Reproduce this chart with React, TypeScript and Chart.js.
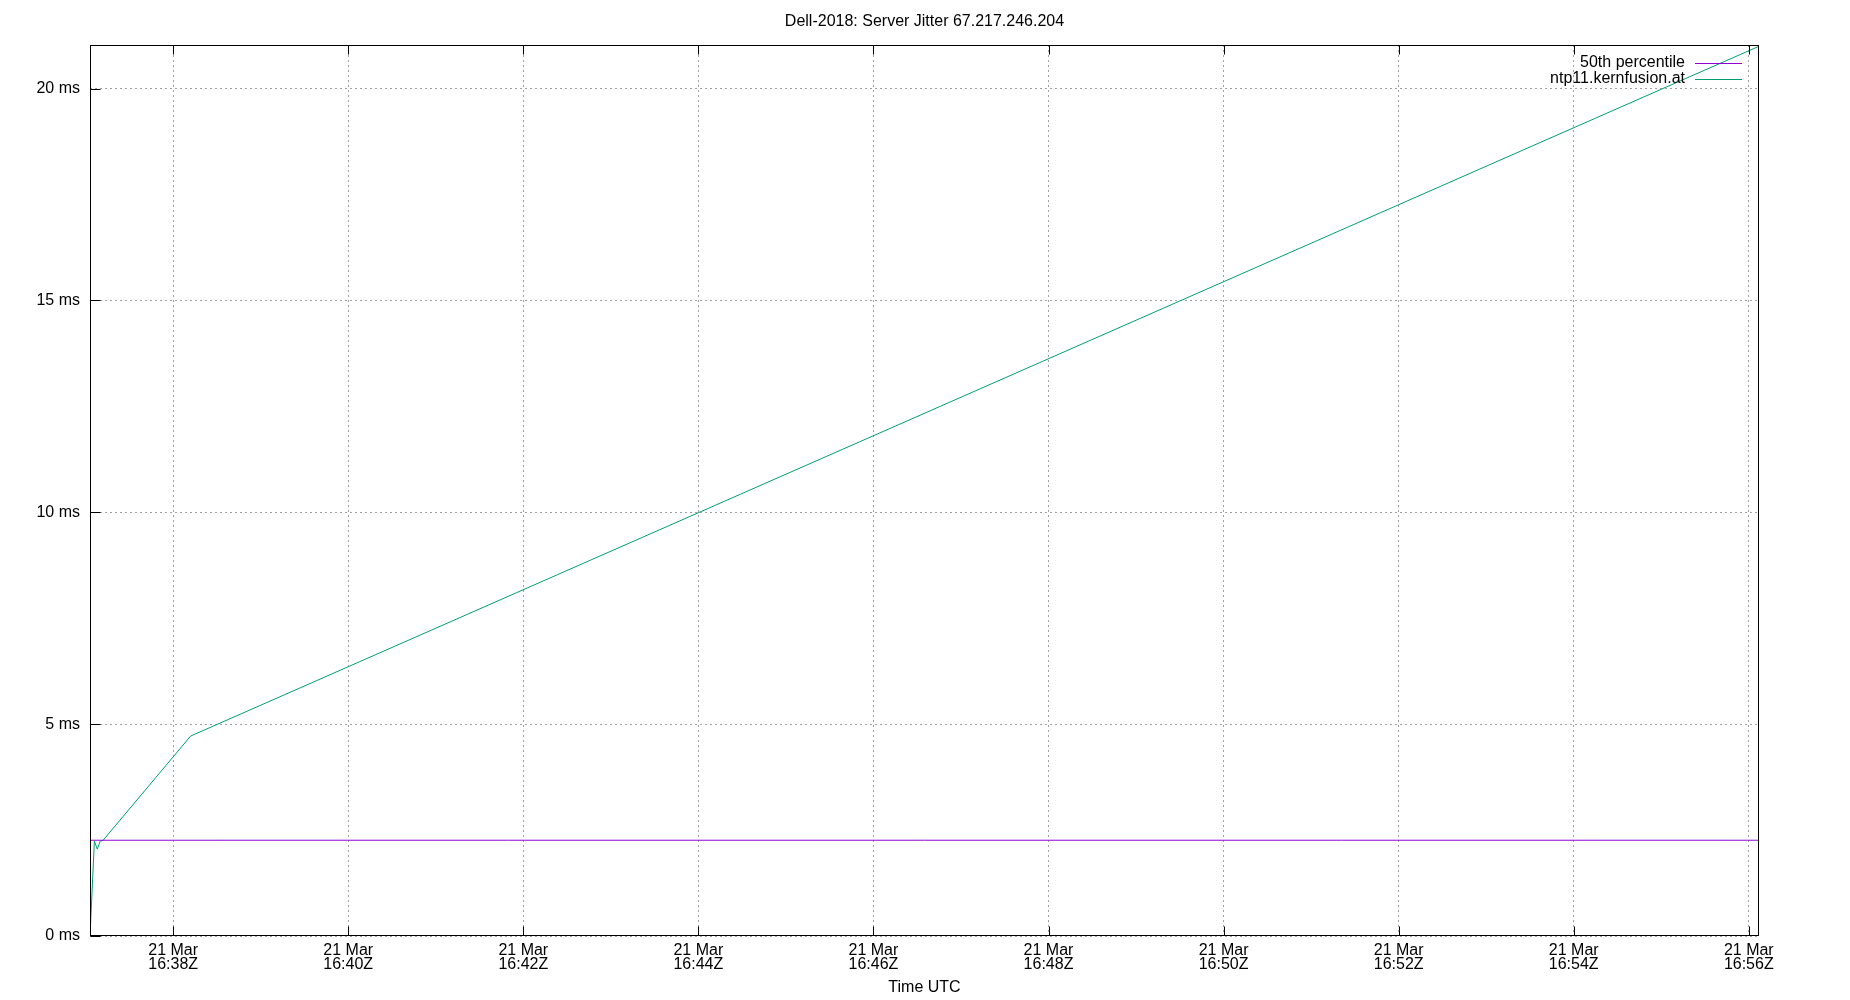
import { Chart, registerables } from 'chart.js'
import { useEffect, useRef } from 'react'

Chart.register(...registerables)

const chartTitle = 'Dell-2018: Server Jitter 67.217.246.204'
const xAxisTitle = 'Time UTC'
const dateLabel = '21 Mar'

// jitter samples for the server (time UTC, ms)
const jitterLabel = 'ntp11.kernfusion.at'
const jitterTimes = ['16:37:03', '16:37:06', '16:37:08', '16:37:10', '16:37:12', '16:38:12', '16:56:07']
const jitterValues = [0, 2.24, 2.05, 2.24, 2.26, 4.72, 21.0]

const medianLabel = '50th percentile'
const medianValue = 2.26

const xRange = ['16:37:03', '16:56:07']
const xTickTimes = ['16:38', '16:40', '16:42', '16:44', '16:46', '16:48', '16:50', '16:52', '16:54', '16:56']
const xTickLabels = ['16:38Z', '16:40Z', '16:42Z', '16:44Z', '16:46Z', '16:48Z', '16:50Z', '16:52Z', '16:54Z', '16:56Z']
const yTicks = [0, 5, 10, 15, 20]
const yMax = 21.03

const FONT = '"Liberation Sans", Arial, sans-serif'

const toSec = (s: string) => {
  const p = s.split(':').map(Number)
  return p[0] * 3600 + p[1] * 60 + (p[2] ?? 0)
}

// gnuplot style frame, inward ticks, title and key
const framePlugin = {
  id: 'frame',
  afterDraw(chart: any) {
    const { ctx, chartArea: a, scales } = chart
    const l = Math.round(a.left) + 0.5
    const r = Math.round(a.right) - 0.5
    const t = Math.round(a.top) + 0.5
    const b = Math.round(a.bottom) - 0.5
    ctx.save()
    ctx.setLineDash([])
    ctx.strokeStyle = '#000'
    ctx.lineWidth = 1
    ctx.strokeRect(l, t, r - l, b - t)
    ctx.beginPath()
    for (const tk of scales.x.ticks) {
      const px = Math.round(scales.x.getPixelForValue(tk.value)) + 0.5
      ctx.moveTo(px, b)
      ctx.lineTo(px, b - 9)
      ctx.moveTo(px, t)
      ctx.lineTo(px, t + 9)
    }
    for (const tk of scales.y.ticks) {
      const py = Math.round(scales.y.getPixelForValue(tk.value)) + 0.5
      ctx.moveTo(l, py)
      ctx.lineTo(l + 10, py)
    }
    ctx.stroke()

    ctx.fillStyle = '#000'
    ctx.font = `16px ${FONT}`
    ctx.textAlign = 'center'
    ctx.textBaseline = 'middle'
    ctx.fillText(chartTitle, (a.left + a.right) / 2, 22)

    ctx.textAlign = 'right'
    chart.data.datasets.forEach((ds: any, i: number) => {
      const y = 63 + i * 16
      ctx.fillStyle = '#000'
      ctx.fillText(ds.label, a.right - 74, y)
      ctx.strokeStyle = ds.borderColor
      ctx.lineWidth = 1
      ctx.beginPath()
      ctx.moveTo(a.right - 64, Math.round(y) + 0.5)
      ctx.lineTo(a.right - 17, Math.round(y) + 0.5)
      ctx.stroke()
    })
    ctx.restore()
  },
}

export default function App() {
  const chartRef = useRef<HTMLCanvasElement>(null)
  const chartInstance = useRef<Chart | null>(null)

  useEffect(() => {
    if (!chartRef.current) return
    if (chartInstance.current) chartInstance.current.destroy()
    const ctx = chartRef.current.getContext('2d')
    if (!ctx) return

    const xMin = toSec(xRange[0])
    const xMax = toSec(xRange[1])

    chartInstance.current = new Chart(ctx, {
      type: 'line',
      data: {
        datasets: [
          {
            label: medianLabel,
            data: [
              { x: xMin, y: medianValue },
              { x: xMax, y: medianValue },
            ],
            borderColor: '#9400d3',
            borderWidth: 1,
            pointRadius: 0,
            tension: 0,
          },
          {
            label: jitterLabel,
            data: jitterTimes.map((t, i) => ({ x: toSec(t), y: jitterValues[i] })),
            borderColor: '#009e73',
            borderWidth: 1,
            pointRadius: 0,
            tension: 0,
          },
        ],
      },
      options: {
        animation: false,
        responsive: true,
        maintainAspectRatio: false,
        layout: { padding: { top: 45, right: 91, left: 0, bottom: 0 } },
        plugins: {
          legend: { display: false },
          title: { display: false },
          tooltip: { enabled: false },
        },
        scales: {
          x: {
            type: 'linear',
            min: xMin,
            max: xMax,
            afterBuildTicks: (scale: any) => {
              scale.ticks = xTickTimes.map((t) => ({ value: toSec(t) }))
            },
            afterFit: (scale: any) => {
              scale.height = 64
            },
            grid: { color: '#a0a0a0', lineWidth: 1, drawTicks: false },
            border: { display: false, dash: [2, 3] },
            ticks: {
              autoSkip: false,
              maxRotation: 0,
              padding: 8,
              color: '#000',
              font: { family: FONT, size: 16, lineHeight: 0.85 },
              callback: (_v: any, i: number) => [dateLabel, xTickLabels[i]],
            },
            title: {
              display: true,
              text: xAxisTitle,
              color: '#000',
              font: { family: FONT, size: 16 },
              padding: { top: 0, bottom: 3 },
            },
          },
          y: {
            type: 'linear',
            min: 0,
            max: yMax,
            afterBuildTicks: (scale: any) => {
              scale.ticks = yTicks.map((v) => ({ value: v }))
            },
            afterFit: (scale: any) => {
              scale.width = 90
            },
            grid: { color: '#a0a0a0', lineWidth: 1, drawTicks: false },
            border: { display: false, dash: [2, 3] },
            ticks: {
              padding: 10,
              color: '#000',
              font: { family: FONT, size: 16 },
              callback: (v: any) => `${v} ms`,
            },
          },
        },
      },
      plugins: [framePlugin],
    })

    return () => {
      if (chartInstance.current) {
        chartInstance.current.destroy()
        chartInstance.current = null
      }
    }
  }, [])

  return (
    <div style={{ position: 'fixed', left: 0, top: 0, width: 1850, height: 1000, background: '#fff' }}>
      <canvas ref={chartRef}></canvas>
    </div>
  )
}
